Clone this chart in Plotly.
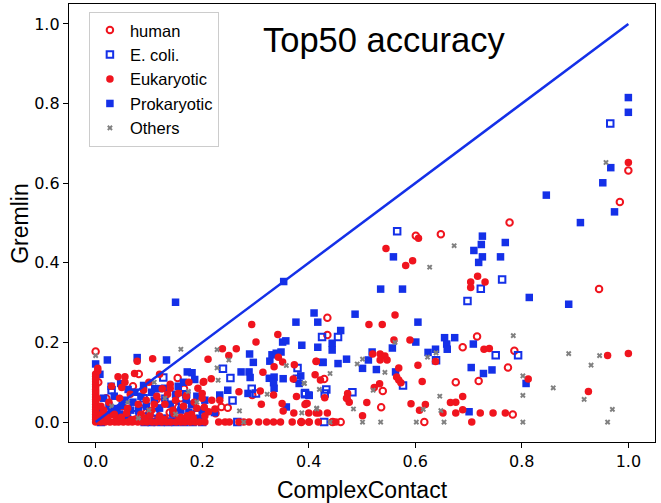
import plotly.graph_objects as go

RED = "#f0141e"
BLUE = "#1430e8"
GRAY = "#808080"

# ---------------- data ----------------
human_x = [1.000, 0.984, 0.777, 0.601, 0.648, 0.945, 0.435, 0.435, 0.716, 0.689,
           0.786, 0.774, 0.783, 0.617, 0.676, 0.719, 0.539, 0.536, 0.429, 0.386,
           0.445, 0.460, 0.294, 0.236, 0.248, 0.225, 0.000, 0.081, 0.154, 0.166,
           0.155, 0.114, 0.086, 0.139, 0.113, 0.020, 0.050, 0.090, 0.120, 0.180,
           0.070, 0.160, 0.195, 0.060, 0.110, 0.005, 0.030, 0.130]
human_y = [0.632, 0.553, 0.501, 0.468, 0.472, 0.334, 0.262, 0.219, 0.215, 0.188,
           0.179, 0.137, 0.019, 0.000, 0.100, 0.103, 0.078, 0.037, 0.108, 0.000,
           0.000, 0.000, 0.068, 0.038, 0.036, 0.022, 0.177, 0.121, 0.111, 0.084,
           0.037, 0.057, 0.034, 0.024, 0.021, 0.060, 0.040, 0.030, 0.050, 0.030,
           0.090, 0.060, 0.005, 0.005, 0.000, 0.100, 0.012, 0.008]

ecoli_x = [0.966, 0.566, 0.763, 0.723, 0.698, 0.425, 0.455, 0.751, 0.793, 0.639,
           0.577, 0.482, 0.433, 0.430, 0.393, 0.379, 0.239, 0.253, 0.378, 0.293,
           0.301, 0.393, 0.257, 0.266, 0.429, 0.127, 0.050, 0.090, 0.150, 0.190,
           0.030, 0.170, 0.070, 0.010, 0.092, 0.105, 0.122, 0.136, 0.150, 0.166,
           0.182, 0.200, 0.060, 0.110]
ecoli_y = [0.750, 0.479, 0.358, 0.335, 0.304, 0.214, 0.214, 0.168, 0.168, 0.155,
           0.092, 0.075, 0.082, 0.072, 0.073, 0.136, 0.134, 0.111, 0.109, 0.084,
           0.072, 0.070, 0.054, 0.000, 0.000, 0.112, 0.030, 0.060, 0.040, 0.020,
           0.080, 0.070, 0.020, 0.000, 0.000, 0.000, 0.000, 0.000, 0.000, 0.000,
           0.000, 0.000, 0.045, 0.025]

euk_x = [1.000, 0.606, 0.545, 0.595, 0.582, 0.717, 0.704, 0.731, 0.704, 0.562,
         0.513, 0.538, 0.560, 0.590, 0.729, 0.739, 0.961, 1.000, 0.812, 0.925,
         0.769, 0.746, 0.722, 0.706, 0.689, 0.689, 0.676, 0.676, 0.666, 0.652,
         0.619, 0.608, 0.592, 0.613, 0.605, 0.638, 0.520, 0.534, 0.543, 0.534,
         0.547, 0.569, 0.565, 0.569, 0.573, 0.533, 0.523, 0.509, 0.501, 0.473,
         0.472, 0.476, 0.414, 0.412, 0.422, 0.430, 0.395, 0.400, 0.414, 0.435,
         0.400, 0.293, 0.342, 0.301, 0.238, 0.264, 0.250, 0.211, 0.343, 0.351,
         0.373, 0.414, 0.335, 0.314, 0.371, 0.217, 0.203, 0.269, 0.309, 0.334,
         0.377, 0.397, 0.393, 0.218, 0.233, 0.311, 0.350, 0.352, 0.372, 0.419,
         0.224, 0.204, 0.212, 0.200, 0.471,
         0.231, 0.243, 0.251, 0.269, 0.278, 0.288, 0.306, 0.321, 0.334, 0.347,
         0.369, 0.386, 0.401, 0.418, 0.444, 0.451,
         0.078, 0.107, 0.042, 0.055, 0.073, 0.125, 0.049, 0.140, 0.155, 0.192,
         0.202,
         0.000, 0.000, 0.000, 0.000, 0.000, 0.000, 0.000, 0.000, 0.000, 0.000,
         0.000, 0.000, 0.000, 0.000, 0.000, 0.000, 0.000, 0.000, 0.000, 0.000,
         0.004, 0.004, 0.005, 0.003,
         0.010, 0.018, 0.027, 0.036, 0.043, 0.052, 0.061, 0.069, 0.079, 0.088,
         0.096, 0.106, 0.114, 0.124, 0.133, 0.141, 0.151, 0.160, 0.168, 0.178,
         0.187, 0.195, 0.205,
         0.015, 0.025, 0.035, 0.045, 0.060, 0.065, 0.080, 0.085, 0.095, 0.100,
         0.105, 0.115, 0.120, 0.130, 0.135, 0.145, 0.150, 0.160, 0.165, 0.170,
         0.180, 0.185, 0.190, 0.200, 0.205, 0.030, 0.055, 0.020, 0.010, 0.040,
         0.075, 0.090, 0.110, 0.140, 0.175, 0.120, 0.008, 0.022, 0.048, 0.067,
         0.093, 0.128, 0.157, 0.183, 0.012, 0.033, 0.058, 0.102, 0.147, 0.172]
euk_y = [0.652, 0.462, 0.436, 0.405, 0.393, 0.366, 0.352, 0.352, 0.338, 0.269,
         0.245, 0.245, 0.206, 0.206, 0.183, 0.185, 0.167, 0.172, 0.108, 0.077,
         0.023, 0.023, 0.023, 0.000, 0.031, 0.064, 0.023, 0.050, 0.049, 0.023,
         0.044, 0.030, 0.046, 0.102, 0.143, 0.152, 0.171, 0.171, 0.166, 0.156,
         0.156, 0.136, 0.113, 0.106, 0.099, 0.096, 0.087, 0.049, 0.016, 0.072,
         0.060, 0.050, 0.152, 0.119, 0.106, 0.061, 0.047, 0.023, 0.023, 0.023,
         0.000, 0.245, 0.220, 0.201, 0.184, 0.184, 0.167, 0.158, 0.163, 0.151,
         0.144, 0.153, 0.139, 0.125, 0.108, 0.109, 0.102, 0.076, 0.078, 0.068,
         0.064, 0.047, 0.044, 0.055, 0.055, 0.045, 0.047, 0.028, 0.023, 0.023,
         0.033, 0.037, 0.026, 0.072, 0.060,
         0.000, 0.000, 0.000, 0.000, 0.000, 0.000, 0.000, 0.000, 0.000, 0.000,
         0.000, 0.000, 0.000, 0.000, 0.000, 0.000,
         0.153, 0.159, 0.114, 0.114, 0.122, 0.084, 0.087, 0.085, 0.072, 0.085,
         0.100,
         0.000, 0.007, 0.013, 0.019, 0.026, 0.032, 0.038, 0.045, 0.051, 0.057,
         0.063, 0.070, 0.076, 0.082, 0.089, 0.095, 0.101, 0.108, 0.115, 0.121,
         0.128, 0.135, 0.004, 0.060,
         0.000, 0.000, 0.000, 0.000, 0.000, 0.000, 0.000, 0.000, 0.000, 0.000,
         0.000, 0.000, 0.000, 0.000, 0.000, 0.000, 0.000, 0.000, 0.000, 0.000,
         0.000, 0.000, 0.000,
         0.030, 0.050, 0.020, 0.060, 0.035, 0.070, 0.045, 0.020, 0.055, 0.100,
         0.030, 0.065, 0.015, 0.045, 0.070, 0.030, 0.055, 0.012, 0.040, 0.065,
         0.020, 0.050, 0.035, 0.060, 0.015, 0.090, 0.100, 0.015, 0.040, 0.010,
         0.008, 0.080, 0.045, 0.095, 0.100, 0.120, 0.010, 0.008, 0.012, 0.006,
         0.010, 0.007, 0.009, 0.011, 0.020, 0.018, 0.022, 0.017, 0.021, 0.016]

prok_x = [1.000, 1.000, 0.967, 0.952, 0.974, 0.846, 0.910, 0.726, 0.724, 0.769,
          0.710, 0.726, 0.719, 0.760, 0.559, 0.535, 0.576, 0.814, 0.888, 0.410,
          0.417, 0.487, 0.605, 0.460, 0.444, 0.444, 0.387, 0.417, 0.601, 0.655,
          0.674, 0.659, 0.660, 0.709, 0.705, 0.744, 0.728, 0.808, 0.701, 0.624,
          0.638, 0.557, 0.519, 0.512, 0.471, 0.455, 0.427, 0.501, 0.527, 0.563,
          0.400, 0.385, 0.353, 0.150, 0.376, 0.351, 0.357, 0.289, 0.327, 0.331,
          0.339, 0.348, 0.296, 0.426, 0.273, 0.288, 0.290, 0.326, 0.335, 0.334,
          0.335, 0.352, 0.382, 0.248, 0.286, 0.233, 0.401, 0.358, 0.223, 0.205,
          0.022, 0.078, 0.133, 0.172, 0.181, 0.186, 0.029, 0.047, 0.061, 0.073,
          0.090, 0.111, 0.119, 0.130, 0.000,
          0.005, 0.012, 0.020, 0.030, 0.040, 0.050, 0.008, 0.015, 0.025, 0.035,
          0.045, 0.055, 0.065, 0.070, 0.085, 0.095, 0.100, 0.110, 0.120, 0.130,
          0.140, 0.150, 0.160, 0.170, 0.180, 0.190, 0.200, 0.155, 0.165, 0.060,
          0.008, 0.105, 0.145, 0.175, 0.195, 0.080, 0.125]
prok_y = [0.815, 0.778, 0.639, 0.601, 0.528, 0.570, 0.501, 0.467, 0.446, 0.451,
          0.431, 0.415, 0.401, 0.415, 0.415, 0.334, 0.334, 0.313, 0.296, 0.274,
          0.251, 0.271, 0.251, 0.230, 0.198, 0.181, 0.193, 0.188, 0.201, 0.212,
          0.212, 0.196, 0.183, 0.196, 0.137, 0.131, 0.122, 0.097, 0.026, 0.175,
          0.183, 0.186, 0.176, 0.156, 0.158, 0.147, 0.150, 0.135, 0.132, 0.126,
          0.068, 0.116, 0.353, 0.301, 0.251, 0.201, 0.204, 0.171, 0.153, 0.169,
          0.173, 0.176, 0.150, 0.150, 0.126, 0.126, 0.112, 0.110, 0.113, 0.099,
          0.085, 0.109, 0.097, 0.080, 0.072, 0.068, 0.067, 0.038, 0.024, 0.055,
          0.156, 0.162, 0.156, 0.126, 0.124, 0.107, 0.090, 0.097, 0.082, 0.075,
          0.092, 0.084, 0.084, 0.085, 0.146,
          0.005, 0.010, 0.020, 0.026, 0.034, 0.042, 0.030, 0.060, 0.040, 0.065,
          0.020, 0.055, 0.030, 0.050, 0.065, 0.040, 0.015, 0.055, 0.035, 0.060,
          0.045, 0.070, 0.030, 0.055, 0.045, 0.065, 0.030, 0.090, 0.100, 0.010,
          0.120, 0.075, 0.020, 0.025, 0.010, 0.030, 0.010]

other_x = [0.958, 0.673, 0.627, 0.562, 0.784, 0.888, 0.946, 0.930, 0.802, 0.859,
           0.917, 0.970, 0.961, 0.802, 0.802, 0.648, 0.646, 0.654, 0.615, 0.602,
           0.623, 0.639, 0.543, 0.491, 0.501, 0.521, 0.484, 0.501, 0.535, 0.440,
           0.420, 0.415, 0.440, 0.391, 0.228, 0.250, 0.358, 0.228, 0.392, 0.322,
           0.230, 0.415, 0.387, 0.270, 0.278, 0.160, 0.000, 0.174, 0.060, 0.100,
           0.130, 0.030, 0.080, 0.150, 0.190, 0.110]
other_y = [0.652, 0.443, 0.389, 0.200, 0.217, 0.172, 0.167, 0.143, 0.116, 0.086,
           0.057, 0.032, 0.000, 0.067, 0.000, 0.029, 0.065, 0.000, 0.032, 0.000,
           0.163, 0.174, 0.125, 0.146, 0.158, 0.080, 0.033, 0.000, 0.000, 0.122,
           0.082, 0.033, 0.000, 0.098, 0.182, 0.156, 0.142, 0.136, 0.097, 0.070,
           0.105, 0.035, 0.023, 0.028, 0.000, 0.183, 0.167, 0.077, 0.050, 0.030,
           0.060, 0.040, 0.010, 0.020, 0.050, 0.100]

diag_x = [0.0, 1.0]
diag_y = [0.0, 1.0]

tick_vals = [0, 0.2, 0.4, 0.6, 0.8, 1.0]
tick_text = ["0.0", "0.2", "0.4", "0.6", "0.8", "1.0"]

# ---------------- figure ----------------
fig = go.Figure()
fig.add_trace(go.Scatter(x=human_x, y=human_y, mode="markers", name="human",
                         legendrank=1,
                         marker=dict(symbol="circle-open", size=6.5, color=RED,
                                     line=dict(width=2, color=RED))))
fig.add_trace(go.Scatter(x=ecoli_x, y=ecoli_y, mode="markers", name="E. coli.",
                         legendrank=2,
                         marker=dict(symbol="square-open", size=6.5, color=BLUE,
                                     line=dict(width=2, color=BLUE))))
fig.add_trace(go.Scatter(x=prok_x, y=prok_y, mode="markers", name="Prokaryotic",
                         legendrank=4,
                         marker=dict(symbol="square", size=7.5, color=BLUE,
                                     line=dict(width=0))))
fig.add_trace(go.Scatter(x=euk_x, y=euk_y, mode="markers", name="Eukaryotic",
                         legendrank=3,
                         marker=dict(symbol="circle", size=7.5, color=RED,
                                     line=dict(width=0))))
fig.add_trace(go.Scatter(x=other_x, y=other_y, mode="markers", name="Others",
                         legendrank=5,
                         marker=dict(symbol="x", size=5, color=GRAY,
                                     line=dict(width=0))))
fig.add_trace(go.Scatter(x=diag_x, y=diag_y, mode="lines", showlegend=False,
                         line=dict(color=BLUE, width=2.5), hoverinfo="skip"))

axis_common = dict(
    showgrid=False, zeroline=False, showline=True, linecolor="black",
    linewidth=1.3, mirror=True, ticks="outside", ticklen=5, tickwidth=1.2,
    tickcolor="black", automargin=False,
    tickfont=dict(family="DejaVu Sans", size=16, color="black"),
    range=[-0.05, 1.05], tickvals=tick_vals, ticktext=tick_text,
)

fig.update_layout(
    width=661, height=503,
    margin=dict(l=69, r=6, t=4, b=61),
    paper_bgcolor="white", plot_bgcolor="white",
    font=dict(family="Liberation Sans, Arial", color="black"),
    xaxis=dict(**axis_common),
    yaxis=dict(**axis_common),
    legend=dict(x=0.034, y=0.982, xanchor="left", yanchor="top",
                bgcolor="white", bordercolor="#cccccc", borderwidth=1,
                font=dict(family="Liberation Sans, Arial", size=16.5, color="black"),
                itemwidth=30, tracegroupgap=0),
    annotations=[
        dict(text="Top50 accuracy", x=0.538, y=0.918, xref="paper",
             yref="paper", xanchor="center", yanchor="middle", showarrow=False,
             font=dict(family="Liberation Sans, Arial", size=34.5, color="black")),
        dict(text="ComplexContact", x=0.5, y=-0.11, xref="paper", yref="paper",
             xanchor="center", yanchor="middle", showarrow=False,
             font=dict(family="Liberation Sans, Arial", size=23, color="black")),
        dict(text="Gremlin", x=-0.084, y=0.5, xref="paper", yref="paper",
             xanchor="center", yanchor="middle", showarrow=False, textangle=-90,
             font=dict(family="Liberation Sans, Arial", size=23, color="black")),
    ],
    showlegend=True,
)

fig.write_html("out.html",
               config={"displayModeBar": False},
               post_script="document.body.style.margin='0';"
                           "document.body.style.overflow='hidden';")
